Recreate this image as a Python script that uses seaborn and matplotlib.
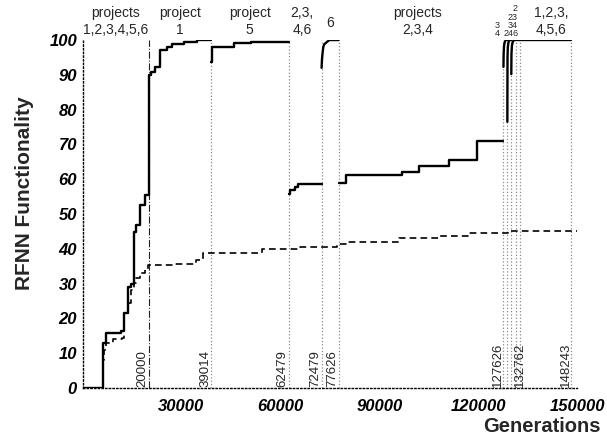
import matplotlib
matplotlib.use("Agg")
import matplotlib.pyplot as plt
import seaborn as sns

# ======================================================
# data
# ======================================================

# dashed curve (whole run)
dashed_gen = [0, 6200, 6400, 7000, 9100, 12100, 12700, 13700, 14800, 15500, 16300,
              17300, 18800, 19900, 27300, 34400, 36400, 54500, 66000, 77000, 80000,
              96000, 108000, 117000, 129000, 150000]
dashed_val = [0, 8, 10.9, 13, 14, 14.5, 21, 24.4, 28.2, 30.2, 31.6,
              33, 33.9, 35.3, 35.6, 36.8, 38.8, 40, 40.5, 41.3, 42,
              43, 43.8, 44.5, 45, 45]

# solid curve, one piece per project phase
seg1_gen = [0, 6200, 7000, 11700, 12700, 13700, 14750, 15450, 16260, 17270, 18800,
            20000, 20700, 22100, 23600, 25550, 27200, 30900, 34850, 39014]
seg1_val = [0, 12.9, 15.9, 16.5, 21.5, 29.1, 30, 44.9, 46.8, 52.6, 55.5,
            89.9, 90.9, 92.3, 97.1, 98.1, 98.9, 99.5, 100, 100]
seg3_gen = [39014, 39250, 46000, 51100, 62479]
seg3_val = [93.8, 98.1, 99.2, 99.5, 99.5]
seg4_gen = [62479, 62900, 64400, 65400, 72479]
seg4_val = [55.9, 57, 57.7, 58.6, 58.6]
seg5_gen = [72479, 72600, 72800, 73000, 73300, 74800, 77626]
seg5_val = [92, 94.5, 96.5, 98, 98.8, 100, 100]
seg6_gen = [77626, 79900, 97000, 102000, 111100, 119700, 127626]
seg6_val = [58.8, 61.2, 62, 63.8, 65.5, 71, 71]
seg7a_gen = [127626, 127680, 127800, 128000, 128300, 128800]
seg7a_val = [92.3, 96, 98.3, 99.4, 100, 100]
seg7b_gen = [128800, 128850, 128950, 129150, 129500, 130000]
seg7b_val = [76.5, 95, 98, 99.4, 100, 100]
seg7c_gen = [130000, 130050, 130200, 130450, 130800, 131300]
seg7c_val = [90.2, 96, 98.5, 99.5, 100, 100]
seg8_gen = [131300, 132762, 148243]
seg8_val = [100, 100, 100]

boundaries = [20000, 39014, 62479, 72479, 77626, 127626, 128800, 130000, 131300,
              132762, 148243]
boundary_labels = ["20000", "39014", "62479", "72479", "77626", "127626", "", "", "",
                   "132762", "148243"]

phase_text = ["projects\n1,2,3,4,5,6", "project\n1", "project\n5", "2,3,\n4,6",
              "projects\n2,3,4", "1,2,3,\n4,5,6"]
phase_pos = [10000, 29500, 50700, 66500, 101700, 142000]

small_text = ["3\n4", "2", "2\n3\n4", "2\n3\n4\n6"]
small_pos = [125700, 128300, 129700, 131000]

# ======================================================
# figure
# ======================================================

sns.set_style("white")
plt.rcParams["font.family"] = ["Liberation Sans", "DejaVu Sans"]

fig = plt.figure(figsize=(6.07, 4.40), dpi=100)
ax = fig.add_axes([0.136, 0.118, 0.815, 0.791])

# phase boundaries
for g, lab in zip(boundaries, boundary_labels):
    if g == 20000:
        ax.vlines(g, 0, 100, color="#222222", lw=0.8, ls="-.")
    else:
        ax.vlines(g, 0, 100, color="#8a8a8a", lw=0.9, ls=":")
    if lab:
        ha = "center" if g == 132762 else "right"
        ax.text(g, 0.4, lab, rotation=90, ha=ha, va="bottom", fontsize=9.5)

# curves
sns.lineplot(x=dashed_gen, y=dashed_val, ax=ax, color="black", lw=1.2,
             linestyle=(0, (4, 2.5)), drawstyle="steps-post", estimator=None)
for g, v in [(seg1_gen, seg1_val), (seg3_gen, seg3_val), (seg4_gen, seg4_val),
             (seg6_gen, seg6_val)]:
    sns.lineplot(x=g, y=v, ax=ax, color="black", lw=1.7,
                 drawstyle="steps-post", estimator=None)
for g, v in [(seg5_gen, seg5_val), (seg7a_gen, seg7a_val), (seg7b_gen, seg7b_val),
             (seg7c_gen, seg7c_val), (seg8_gen, seg8_val)]:
    sns.lineplot(x=g, y=v, ax=ax, color="black", lw=1.7, estimator=None)

# labels above the plot
trans = ax.get_xaxis_transform()
for t, x in zip(phase_text, phase_pos):
    ax.text(x, 1.01, t, transform=trans, ha="center", va="bottom", fontsize=10,
            linespacing=1.2, clip_on=False)
ax.text(75000, 1.05, "6", transform=trans, ha="center", va="center", fontsize=10)
for t, x in zip(small_text, small_pos):
    ax.text(x, 1.005, t, transform=trans, ha="center", va="bottom", fontsize=6.5,
            linespacing=0.9, clip_on=False)

ax.set_xlim(0, 150000)
ax.set_ylim(0, 100)
ax.set_xticks([30000, 60000, 90000, 120000, 150000])
ax.set_yticks(range(0, 101, 10))
for lab in ax.get_xticklabels() + ax.get_yticklabels():
    lab.set_fontweight("bold")
    lab.set_fontstyle("italic")
    lab.set_fontsize(12)
ax.tick_params(direction="in", length=3, width=0.8, colors="black", pad=4)
ax.tick_params(axis="x", pad=8)

sns.despine(ax=ax)
for s in ["left", "bottom"]:
    ax.spines[s].set_linestyle(":")
    ax.spines[s].set_linewidth(1.0)
    ax.spines[s].set_color("black")

ax.set_xlabel("")
ax.set_ylabel("")
fig.text(0.041, 0.56, "RFNN Functionality", rotation=90, ha="center", va="center",
         fontsize=15, fontweight="bold")
fig.text(0.893, 0.03, "Generations", ha="center", va="center", fontsize=14.5,
         fontweight="bold")

fig.savefig("out.png", dpi=100)
